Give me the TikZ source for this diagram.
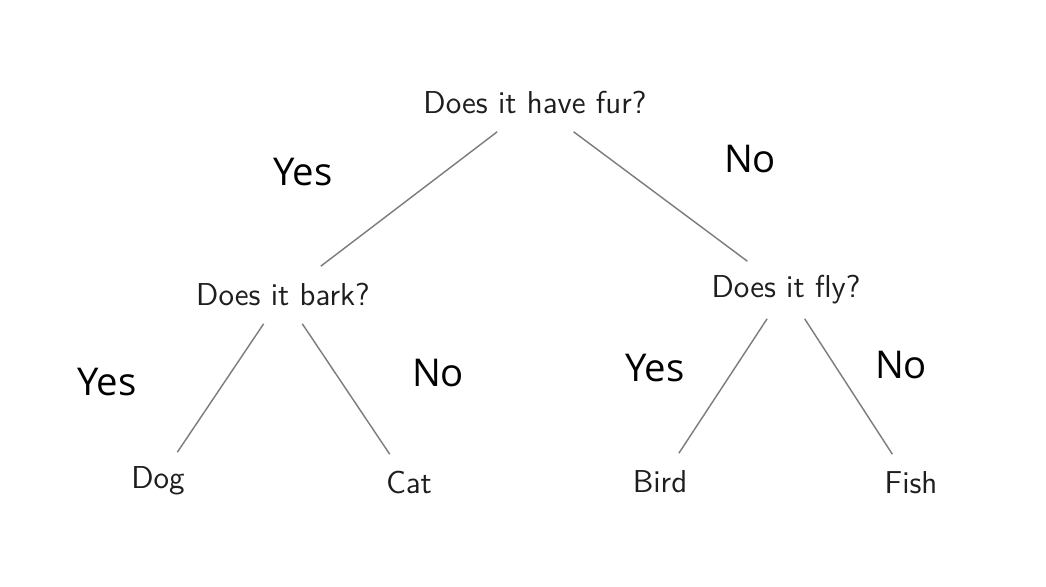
\documentclass[tikz,border=0pt]{standalone}
\usepackage{fontspec}
\usepackage{xcolor}
\usepackage{tikz}
\usetikzlibrary{positioning}
\newfontfamily\answerfont{Open Sans}
\definecolor{qtext}{RGB}{30,30,30}
\definecolor{branch}{RGB}{125,125,125}

\begin{document}
\begin{tikzpicture}[
  x=0.0122cm, y=-0.0122cm,
  question/.style={font=\sffamily\fontsize{11}{13}\selectfont,text=qtext,
                   inner sep=2pt,outer sep=2.5pt,minimum height=15pt},
  leaf/.style={question},
  answer/.style={font=\answerfont\fontsize{13.3}{15}\selectfont,text=black},
  edge/.style={draw=branch,line width=0.5pt},
  ]

  \useasboundingbox (0,0) rectangle (1046,586);

  %─── Questions ─────────────────────────────────────────────────────────────
  \node[question] (fur)  at (535,103) {Does it have fur?};
  \node[question] (bark) at (283,295) {Does it bark?};
  \node[question] (fly)  at (786,290) {Does it fly?};

  %─── Leaves ────────────────────────────────────────────────────────────────
  \node[leaf] (dog)  at (158,481) {Dog};
  \node[leaf] (cat)  at (409,483) {Cat};
  \node[leaf] (bird) at (660,482) {Bird};
  \node[leaf] (fish) at (911,483) {Fish};

  %─── Branches ──────────────────────────────────────────────────────────────
  \draw[edge] (fur)  -- (bark);
  \draw[edge] (fur)  -- (fly);
  \draw[edge] (bark) -- (dog);
  \draw[edge] (bark) -- (cat);
  \draw[edge] (fly)  -- (bird);
  \draw[edge] (fly)  -- (fish);

  %─── Answers ───────────────────────────────────────────────────────────────
  \node[answer] (furyes)  at (303,172) {Yes};
  \node[answer] (furno)   at (750,159) {No};
  \node[answer] (barkyes) at (107,382) {Yes};
  \node[answer] (barkno)  at (438,373) {No};
  \node[answer] (flyyes)  at (655,368) {Yes};
  \node[answer] (flyno)   at (901,365) {No};

\end{tikzpicture}
\end{document}
